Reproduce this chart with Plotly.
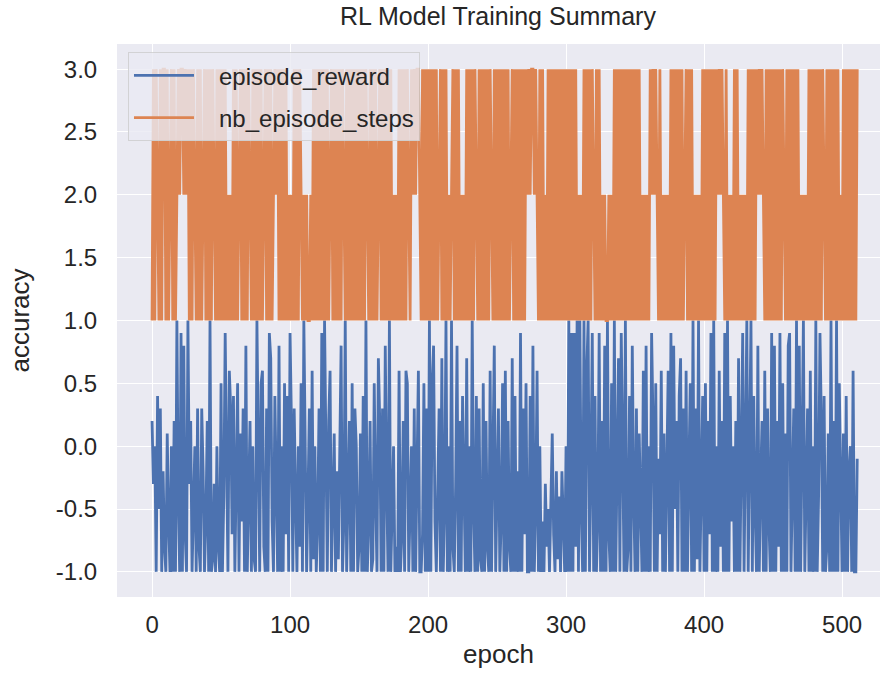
import plotly.graph_objects as go

# episode reward in tenths (one value per epoch)
reward_tenths = [
    2, -3, 0, -10, 4, -5, 3, -10, -2, -8, -10, 1, -6, -10, 0, -10, 2, -10, 10, -4, -10, 9, -10, 8, -7,
    -10, 10, -3, 2, -10, -5, 0, -10, 3, -8, -10, 3, -2, -10, -6, 2, -10, 10, -10, -9, -3, -10, 0, -8, -10,
    5, -10, -4, 9, -1, -10, 6, 3, -7, 4, -10, -2, 5, -10, 1, -6, 3, -10, 8, -10, -4, 2, -10, 0, -9,
    -10, 10, -3, -10, 5, 6, -8, -10, 3, -10, 9, 7, -6, -10, 4, -2, -10, 8, -10, 0, -10, 5, -7, 4, -10,
    9, 2, -10, 3, -4, -10, 0, -8, 5, -10, 10, -2, -10, -4, 3, -10, 6, -9, 0, -10, -6, 3, -10, 9, -10,
    10, -3, -10, 2, 6, -10, -4, 1, -10, -2, -9, 0, 8, -10, -6, 10, -10, -4, 2, -10, 5, -10, 3, 0, -10,
    -8, 1, -10, 4, -10, 10, -10, -6, 2, -10, -9, 5, -4, -10, 7, 2, -10, 3, -10, 8, -3, -10, 10, -10, -5,
    0, -10, -8, -10, 6, -10, -7, 2, -10, 6, 5, -10, -4, 0, -10, 3, -10, -2, 6, -10, -10, -7, 5, -10, 3,
    -10, 10, -10, 5, 8, -6, -10, -2, 3, -10, 7, -10, -5, 10, -10, 0, -10, 10, -8, -10, -3, 8, -10, 2, -10,
    4, -2, -10, 7, -10, 0, -10, 10, -5, -10, 4, -10, 3, -9, -10, 5, -10, 2, -8, -10, 6, -10, 0, 8, -10,
    -4, 3, -10, -6, 5, -10, 6, -10, 2, -8, -10, 7, -10, 4, -10, -2, -10, 9, -10, 3, -7, 5, -10, -10, 4,
    -10, 8, -10, -5, 6, -10, 0, -10, -6, -10, -3, -8, -5, -10, -4, 1, -7, -10, -2, -9, -4, -10, -2, -6, -10,
    0, -10, 10, -10, 9, -10, 9, -8, 10, -10, 10, -5, -10, 10, -10, 6, 10, -10, -2, 9, -10, 4, -10, -6, 9,
    -10, 2, -10, 8, -10, 10, -7, -10, 5, -10, 10, -10, -3, 7, -10, 9, 0, -10, 10, -10, -8, 4, -10, 8, -4,
    -10, 3, -10, 1, -6, -10, 6, -10, 8, -10, 0, -10, 9, 2, -10, 5, -10, -1, -7, 6, -10, 1, -10, -3, 6,
    -10, 9, -10, 8, -5, 2, -10, 4, 7, -10, 3, -10, 6, -10, -2, 5, -10, 10, -10, 3, -9, 10, -10, -4, 4,
    -10, 5, -10, 2, -7, 9, -10, 10, -10, 0, -10, 6, -8, 2, -10, 9, -10, 10, -10, 4, -6, 0, -10, 2, -10,
    7, -10, 1, 9, -10, -2, 10, -10, 1, 10, -10, 4, -5, -10, 8, -10, -3, 2, -10, 6, -10, 3, -6, -10, 9,
    -10, 8, -10, 2, -8, 9, -10, 5, -10, 1, -10, 8, 9, -10, -4, 3, -10, 10, -10, 8, -10, 2, 10, -10, -3,
    3, -10, 6, -10, 0, -10, 10, -10, -4, 9, 2, -10, 4, -10, -8, 1, -10, 10, -10, 2, -10, 10, -10, 5, -5,
    -10, 1, -10, 4, -10, -2, 0, -10, 6, -10, -10, -1,
]

# number of steps per episode
nb_episode_steps = [
    1, 3, 1, 3, 2, 1, 3, 1, 3, 3, 1, 3, 1, 2, 3, 1, 3, 1, 2, 3, 2, 3, 3, 2, 3,
    2, 3, 1, 3, 1, 3, 2, 1, 3, 1, 3, 1, 2, 3, 1, 3, 1, 3, 1, 3, 2, 1, 3, 1, 3,
    1, 3, 1, 3, 1, 2, 1, 2, 1, 3, 1, 3, 1, 2, 3, 1, 3, 1, 3, 1, 3, 2, 1, 3, 1,
    3, 1, 3, 1, 3, 1, 2, 3, 1, 3, 1, 3, 1, 2, 3, 2, 3, 1, 3, 1, 3, 1, 3, 1, 2,
    1, 2, 1, 3, 1, 3, 1, 3, 2, 1, 2, 1, 2, 1, 1, 2, 1, 3, 1, 3, 1, 3, 1, 3, 1,
    3, 1, 3, 1, 2, 3, 1, 3, 1, 3, 1, 3, 1, 3, 2, 1, 3, 1, 3, 1, 3, 1, 3, 1, 3,
    1, 3, 1, 3, 1, 3, 2, 1, 3, 1, 3, 1, 3, 1, 2, 3, 1, 3, 1, 3, 1, 3, 1, 3, 1,
    2, 1, 2, 1, 3, 1, 3, 1, 3, 1, 3, 2, 1, 3, 2, 3, 2, 3, 3, 2, 1, 3, 1, 3, 1,
    3, 1, 3, 1, 3, 1, 3, 1, 2, 3, 1, 3, 1, 3, 1, 2, 1, 2, 3, 1, 3, 1, 3, 1, 2,
    1, 2, 1, 3, 1, 3, 1, 3, 1, 3, 2, 1, 3, 1, 3, 1, 3, 1, 3, 1, 3, 2, 1, 3, 1,
    3, 1, 3, 1, 3, 1, 3, 1, 3, 1, 2, 3, 1, 3, 1, 3, 1, 3, 1, 3, 1, 3, 2, 3, 2,
    3, 3, 2, 3, 2, 1, 3, 1, 3, 1, 2, 1, 3, 1, 3, 1, 3, 1, 3, 1, 3, 1, 3, 1, 3,
    1, 3, 1, 3, 1, 3, 1, 3, 1, 2, 1, 2, 1, 3, 1, 3, 1, 3, 1, 3, 2, 1, 3, 1, 3,
    1, 2, 1, 2, 1, 1, 2, 1, 2, 1, 3, 1, 3, 1, 3, 1, 3, 1, 3, 1, 3, 1, 3, 1, 3,
    1, 3, 1, 3, 1, 2, 1, 2, 1, 2, 1, 3, 2, 3, 2, 3, 2, 1, 3, 1, 2, 1, 2, 1, 2,
    1, 3, 1, 3, 1, 3, 1, 3, 1, 3, 1, 2, 3, 1, 3, 1, 3, 1, 2, 1, 2, 1, 2, 1, 3,
    1, 3, 1, 3, 1, 3, 1, 3, 1, 3, 2, 3, 2, 3, 2, 1, 3, 1, 2, 1, 2, 1, 3, 1, 3,
    1, 2, 1, 2, 1, 2, 1, 3, 1, 3, 1, 3, 1, 3, 2, 3, 2, 3, 2, 1, 3, 1, 3, 1, 3,
    1, 3, 1, 3, 1, 3, 1, 3, 2, 1, 3, 1, 3, 1, 3, 1, 3, 1, 3, 1, 2, 1, 2, 1, 2,
    1, 3, 1, 3, 1, 3, 1, 3, 1, 3, 1, 3, 2, 1, 3, 1, 3, 1, 3, 1, 3, 1, 3, 1, 2,
    1, 3, 1, 3, 1, 3, 1, 3, 1, 3, 1, 3,
]

series_names = ["episode_reward", "nb_episode_steps"]

episode_reward = [v / 10 for v in reward_tenths]
epochs_r = list(range(len(episode_reward)))
epochs_s = list(range(len(nb_episode_steps)))

x_ticks = [0, 100, 200, 300, 400, 500]
y_ticks = [-1.0, -0.5, 0.0, 0.5, 1.0, 1.5, 2.0, 2.5, 3.0]

BLUE = "#4C72B0"
ORANGE = "#DD8452"
FONT = "Liberation Sans, Arial, sans-serif"
TXT = "#262626"
PAD = "\u00a0\u00a0\u00a0"

W, H = 881, 682
ML, MR, MT, MB = 117, 1, 44, 85

fig = go.Figure()
fig.add_trace(go.Scatter(x=epochs_r, y=episode_reward, mode="lines",
                         name=PAD + series_names[0], legendgroup="a",
                         line=dict(color=BLUE, width=2.8)))
fig.add_trace(go.Scatter(x=epochs_s, y=nb_episode_steps, mode="lines",
                         name=PAD + series_names[1], legendgroup="b",
                         line=dict(color=ORANGE, width=2.8)))

fig.update_layout(
    width=W, height=H,
    margin=dict(l=ML, r=MR, t=MT, b=MB, autoexpand=False),
    paper_bgcolor="white",
    plot_bgcolor="#EAEAF2",
    font=dict(family=FONT, size=24, color=TXT),
    title=dict(text="RL Model Training Summary", x=498 / W, xanchor="center",
               xref="container", yref="container",
               y=1 - 16 / H, yanchor="middle", font=dict(size=25, color=TXT)),
    showlegend=True,
    legend=dict(x=0.0144, y=0.985, xanchor="left", yanchor="top",
                bgcolor="rgba(234,234,242,0.8)", bordercolor="rgba(204,204,204,0.8)",
                borderwidth=1, font=dict(size=24, color=TXT),
                tracegroupgap=8, itemwidth=60),
)
fig.update_xaxes(range=[-25.4, 527.5], tickvals=x_ticks, ticktext=[str(t) for t in x_ticks],
                 showgrid=True, gridcolor="white", gridwidth=1.3, zeroline=False,
                 showline=False, ticks="outside", ticklen=6, tickcolor="rgba(0,0,0,0)",
                 automargin=False, tickfont=dict(size=24),
                 title=dict(text="epoch", font=dict(size=26), standoff=8))
fig.update_yaxes(range=[-1.2, 3.2], tickvals=y_ticks, ticktext=[f"{t:.1f}" for t in y_ticks],
                 showgrid=True, gridcolor="white", gridwidth=1.3, zeroline=False,
                 showline=False, ticks="outside", ticklen=14, tickcolor="rgba(0,0,0,0)",
                 automargin=False, tickfont=dict(size=24),
                 title=dict(text="accuracy", font=dict(size=26), standoff=18))

fig.write_html("out.html",
               config={"displayModeBar": False},
               post_script="document.body.style.margin='0';document.body.style.padding='0';")
